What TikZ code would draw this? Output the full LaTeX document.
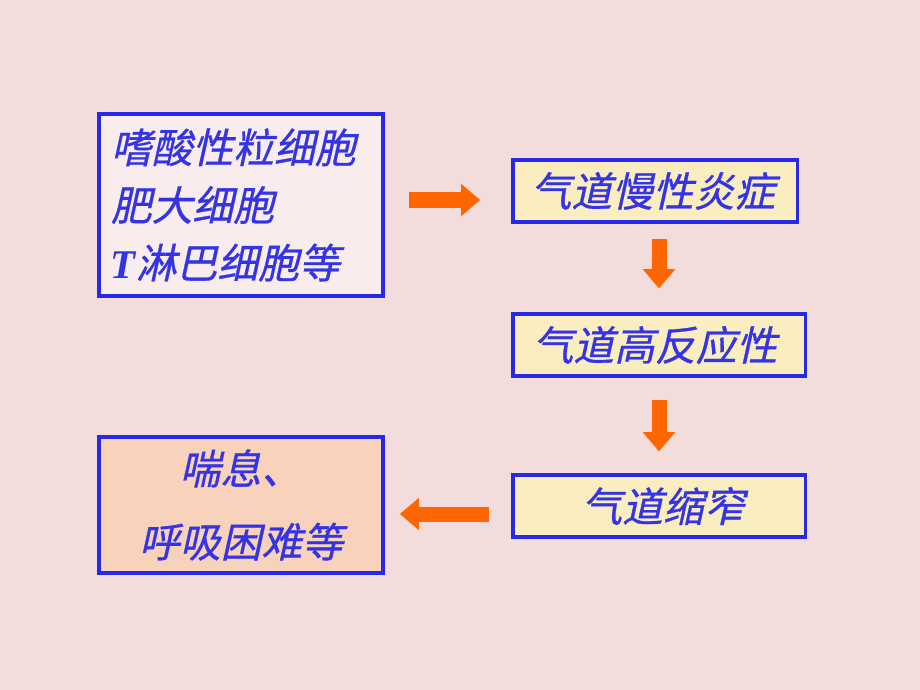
\documentclass[tikz,border=0pt]{standalone}
\usepackage{fontspec}
\newfontfamily\cjk[FakeSlant=0.22,FakeBold=0.7]{Noto Sans CJK SC}
\newfontfamily\latn{Liberation Serif}
\usetikzlibrary{arrows.meta}
\definecolor{bgpink}{RGB}{242,220,220}
\definecolor{cellfill}{RGB}{248,236,236}
\definecolor{stagefill}{RGB}{250,238,192}
\definecolor{endfill}{RGB}{248,210,186}
\definecolor{edgeblue}{RGB}{40,40,232}
\definecolor{textblue}{RGB}{52,52,230}
\definecolor{arroworange}{RGB}{255,102,0}
\tikzset{%
  box/.style={draw=edgeblue, line width=2.2pt, inner sep=0pt, font=\cjk\fontsize{29}{40}\selectfont, text=textblue},%
  fatarrow/.style={draw=arroworange, line width=0.375cm, -{Triangle[length=0.48cm,width=0.78cm]}},%
}
\begin{document}
\begin{tikzpicture}[x=0.025cm, y=-0.025cm]%
\fill[bgpink] (0,0) rectangle (920,690);%
\useasboundingbox (0,0) rectangle (920,690);%
% cells
\node[box, fill=cellfill, line width=2.8pt, minimum width=7.1cm, minimum height=4.55cm, align=left, text width=6.5cm, font=\cjk\fontsize{29}{41}\selectfont] (cells) at (241,205) {嗜酸性粒细胞\\肥大细胞\\{\latn\bfseries\itshape T}淋巴细胞等};%
% stages
\node[box, fill=stagefill, minimum width=7.1cm, minimum height=1.55cm] (inflam) at (655,191) {\hspace{-0.1cm}气道慢性炎症};%
\node[box, fill=stagefill, minimum width=7.3cm, minimum height=1.55cm] (hyper) at (659,345) {\hspace{-0.2cm}气道高反应性};%
\node[box, fill=stagefill, minimum width=7.3cm, minimum height=1.55cm] (narrow) at (659,506) {\hspace{0.2cm}气道缩窄};%
% result
\node[box, fill=endfill, minimum width=7.1cm, minimum height=3.4cm, align=center, font=\cjk\fontsize{29}{52}\selectfont] (result) at (241,505) {喘息、\\呼吸困难等};%
% arrows
\draw[fatarrow, shorten <=0.6cm, shorten >=0.78cm] ([yshift=0.125cm]cells.east) -- ([yshift=0.125cm]cells.east -| inflam.west);%
\draw[fatarrow, shorten <=0.38cm, shorten >=0.6cm] (inflam.south -| hyper.north) -- (hyper.north);%
\draw[fatarrow, shorten <=0.55cm, shorten >=0.55cm] (hyper.south) -- (narrow.north);%
\draw[fatarrow, shorten <=0.55cm, shorten >=0.38cm] ([yshift=-0.2cm]narrow.west) -- ([yshift=-0.2cm]narrow.west -| result.east);%
\end{tikzpicture}
\end{document}
